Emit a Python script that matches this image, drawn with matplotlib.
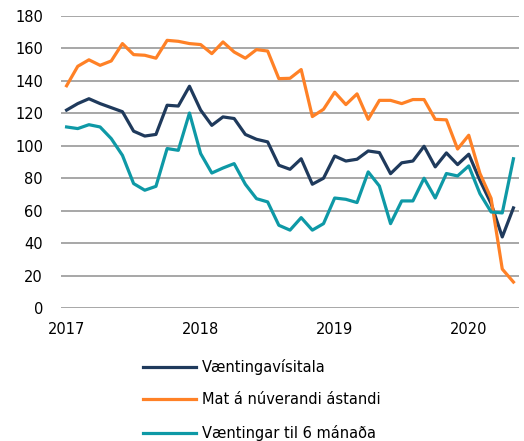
import numpy as np
import matplotlib
matplotlib.use("Agg")
import matplotlib.pyplot as plt

# monthly index values, Jan 2017 - May 2020
vaentingavisitala = [122, 126, 129, 126, 123.5, 121, 109, 106, 107, 125,
                     124.5, 136.7, 122, 112.6, 117.8, 116.8, 107, 104, 102.4, 88,
                     85.5, 92, 76.3, 80, 93.7, 90.6, 91.7, 96.8, 95.8, 82.8,
                     89.5, 90.6, 99.7, 87, 95.6, 88.4, 94.8, 78.7, 64.4, 43.8,
                     61.7]
mat_nuverandi = [137, 149, 153, 149.6, 152.3, 163, 156.2, 155.8, 154, 165,
                 164.4, 163, 162.4, 156.8, 164, 157.8, 154, 159.3, 158.4, 141.4,
                 141.6, 147, 118, 122.5, 133, 125.4, 132, 116.3, 128, 128,
                 126, 128.5, 128.5, 116.3, 116, 98, 106.5, 83, 67.6, 24,
                 16]
vaentingar_6m = [111.6, 110.6, 113, 111.6, 104.4, 94.1, 76.7, 72.6, 75, 98.3,
                 97.2, 120.2, 95.2, 83.2, 86.3, 89, 76.3, 67.4, 65.4, 51,
                 48, 55.7, 48, 52, 67.8, 67, 65, 83.9, 75.2, 52,
                 66, 66, 80, 67.8, 82.9, 81.4, 87.6, 70.5, 59.2, 58.6,
                 92]
year_labels = ["2017", "2018", "2019", "2020"]

months = np.arange(len(vaentingavisitala))

fig = plt.figure(figsize=(5.24, 4.41), dpi=100)
ax = fig.add_axes([0.1164, 0.3016, 0.8741, 0.6621])

ax.plot(months, vaentingavisitala, color="#1F3A5C", lw=2.3, label="Væntingavísitala")
ax.plot(months, mat_nuverandi, color="#FF8126", lw=2.3, label="Mat á núverandi ástandi")
ax.plot(months, vaentingar_6m, color="#0E99A6", lw=2.3, label="Væntingar til 6 mánaða")

ax.set_ylim(0, 180)
ax.set_yticks(np.arange(0, 181, 20))
ax.set_xlim(-0.5, len(months) - 0.5)
ax.set_xticks(np.arange(0, len(months), 12))
ax.set_xticklabels(year_labels)
ax.grid(axis="y", color="#A0A0A0", lw=1.3)
ax.set_axisbelow(True)
for s in ax.spines.values():
    s.set_visible(False)
ax.tick_params(length=0, labelsize=10.5, colors="#000000")
ax.tick_params(axis="y", pad=13)
ax.tick_params(axis="x", pad=10)

fig.legend(loc="upper left", bbox_to_anchor=(0.262, 0.2), frameon=False,
           fontsize=10.5, handlelength=3.6, handletextpad=0.45, labelspacing=1.2,
           borderaxespad=0)

fig.savefig("out.png", dpi=100)
